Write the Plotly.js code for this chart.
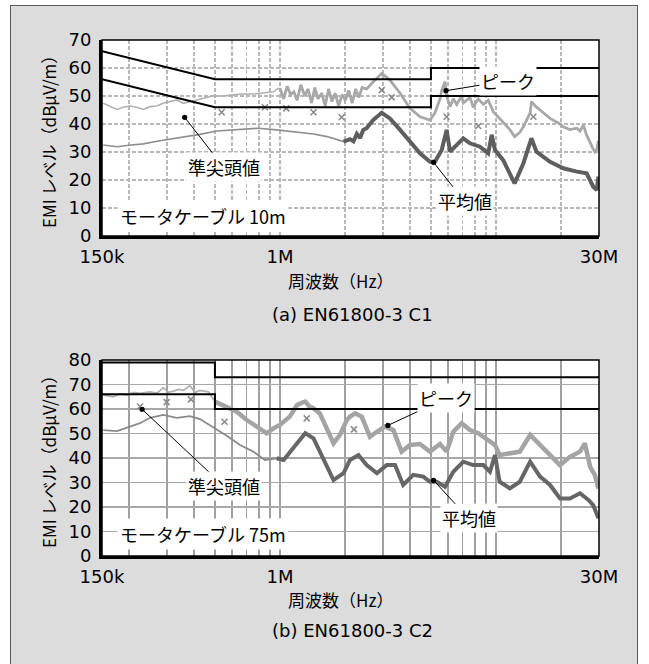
<!DOCTYPE html>
<html><head><meta charset="utf-8">
<script src="https://cdn.plot.ly/plotly-3.0.1.min.js"></script>
<style>
html,body{margin:0;padding:0;background:#fff;overflow:hidden;width:649px;height:664px;}
#frame{position:absolute;left:10px;top:5px;width:628px;height:700px;background:#dcdcdc;border:1px solid #5a5a5a;box-sizing:border-box;}
#chart{position:absolute;left:0;top:0;width:649px;height:664px;}
</style></head><body>
<div id="frame"></div><div id="chart"></div>
<script>
// ---------- data ----------
const xTickVals = [150e3,200e3,300e3,400e3,500e3,600e3,700e3,800e3,900e3,1e6,2e6,3e6,4e6,5e6,6e6,7e6,8e6,9e6,10e6,20e6,30e6];
const xTickText = ['150k','','','','','','','','','1M','','','','','','','','','','','30M'];

// (a) EN61800-3 C1, motor cable 10 m
const limitFreq1 = [150e3, 500e3, 5e6, 5e6, 30e6];
const limitQP1 = [66, 56, 56, 60, 60];
const limitAV1 = [56, 46, 46, 50, 50];
const peak1Freq = [152e3,163e3,176e3,188e3,202e3,217e3,233e3,250e3,269e3,288e3,310e3,333e3,357e3,383e3,412e3,442e3,490e3,547e3,608e3,674e3,753e3,837e3,932e3,979e3,
  1.00e6,1.04e6,1.08e6,1.12e6,1.16e6,1.20e6,1.25e6,1.30e6,1.35e6,1.40e6,1.45e6,1.50e6,1.56e6,1.62e6,1.68e6,1.74e6,1.80e6,1.87e6,1.94e6,2.01e6,2.08e6,2.16e6,2.24e6,2.32e6,2.40e6,
  2.52e6,2.70e6,2.96e6,3.23e6,3.60e6,4.00e6,4.45e6,4.95e6,5.22e6,5.51e6,5.61e6,5.81e6,5.91e6,6.13e6,6.35e6,6.58e6,6.94e6,7.06e6,7.58e6,7.85e6,8.28e6,8.74e6,9.21e6,9.72e6,10.4e6,10.8e6,11.6e6,12.2e6,12.9e6,13.4e6,14.4e6,14.6e6,15.4e6,16.0e6,17.8e6,19.8e6,20.5e6,22.0e6,23.7e6,24.5e6,25.4e6,26.3e6,27.3e6,28.2e6,28.7e6,29.3e6,29.8e6];
const peak1Val = [47.4,46.4,45.2,46.0,46.4,46.0,45.2,46.2,46.4,47.4,48.0,48.6,47.4,48.0,48.8,49.2,50.0,50.0,50.4,50.7,50.7,51.2,51.5,52.7,
  52.7,49.0,53.5,50.5,51.5,48.5,54.0,50.0,52.5,47.5,53.0,49.0,51.0,46.5,52.5,48.0,51.0,46.5,50.5,48.5,52.0,47.5,52.5,49.5,53.0,
  52.5,55.0,58.1,55.7,51.0,45.6,42.6,41.4,44.0,49.0,52.0,55.1,50.0,46.2,49.0,47.0,50.0,47.5,49.5,46.0,49.0,47.0,48.5,44.4,42.0,40.3,38.0,35.5,37.0,39.0,44.0,48.0,46.0,45.0,42.0,40.0,39.0,38.0,38.5,37.5,39.6,36.0,33.0,31.0,30.0,31.0,34.0];
const avg1Freq = [152e3,176e3,195e3,233e3,278e3,357e3,426e3,509e3,631e3,794e3,966e3,
  1.15e6,1.43e6,1.65e6,1.82e6,1.97e6,2.11e6,2.19e6,2.27e6,2.35e6,2.43e6,2.52e6,2.70e6,2.96e6,3.23e6,3.60e6,4.00e6,4.45e6,4.95e6,5.22e6,5.61e6,5.91e6,6.13e6,6.58e6,7.06e6,7.58e6,8.43e6,9.21e6,9.56e6,9.90e6,
  10.8e6,12.2e6,13.4e6,14.6e6,15.4e6,17.8e6,20.5e6,23.7e6,26.3e6,28.2e6,29.3e6,29.8e6];
const avg1Val = [32.5,31.9,32.3,32.9,34.0,35.2,36.3,37.5,38.1,38.5,37.9,
  37.3,36.4,35.5,34.5,33.7,34.6,33.8,36.5,35.0,37.9,38.5,41.4,44.0,42.0,37.9,33.7,29.5,26.5,26.5,30.7,37.9,30.1,32.5,34.9,33.1,31.9,29.5,36.1,30.7,
  27.1,18.8,26.0,34.9,30.1,26.5,24.2,23.0,22.4,17.6,16.4,21.2];
const qp1Freq = [537e3, 852e3, 1.07e6, 1.43e6, 1.93e6, 2.96e6, 3.29e6, 5.91e6, 8.28e6, 14.9e6];
const qp1Val = [44.2, 46.0, 45.6, 44.2, 42.4, 52.1, 49.5, 42.6, 39.3, 42.6];
const call1Labels = ['ピーク', '準尖頭値', '平均値'];
const call1Freq = [5.87e6, 362e3, 5.14e6];
const call1Val = [51.9, 42.4, 26.3];

// (b) EN61800-3 C2, motor cable 75 m
const limitFreq2 = [150e3, 500e3, 500e3, 30e6];
const limitQP2 = [79, 79, 73, 73];
const limitAV2 = [66, 66, 60, 60];
const peak2Freq = [152e3,169e3,182e3,195e3,210e3,225e3,250e3,270e3,288e3,305e3,321e3,340e3,357e3,383e3,405e3,426e3,466e3,500e3,567e3,631e3,
  702e3,780e3,868e3,932e3,1.00e6,1.11e6,1.20e6,1.26e6,1.31e6,1.37e6,1.43e6,1.53e6,1.65e6,1.77e6,1.90e6,2.04e6,2.11e6,2.23e6,2.39e6,2.61e6,
  2.81e6,3.06e6,3.35e6,3.66e6,4.00e6,4.45e6,4.95e6,5.51e6,5.91e6,6.35e6,6.94e6,7.58e6,8.28e6,9.21e6,9.90e6,10.4e6,11.6e6,12.9e6,14.4e6,16.0e6,
  17.8e6,19.8e6,22.0e6,24.5e6,25.8e6,27.3e6,28.7e6,29.8e6];
const peak2Val = [65.7,65.0,66.2,65.7,66.8,66.4,67.0,66.5,68.7,66.8,67.3,68.0,67.6,69.5,66.8,67.6,67.0,63.0,60.9,58.9,
  55.5,52.8,50.1,52.1,53.5,56.9,61.6,62.5,63.0,61.0,60.3,58.2,51.4,46.0,49.6,55.5,56.9,58.2,56.9,48.7,
  50.7,52.8,51.4,42.6,45.3,45.7,42.6,45.7,42.6,50.7,54.2,51.4,50.1,47.3,45.3,41.2,41.9,42.6,49.4,45.3,
  41.2,37.1,40.5,42.6,46.0,36.4,33.1,27.6];
const avg2Freq = [152e3,176e3,202e3,225e3,250e3,288e3,333e3,383e3,426e3,500e3,567e3,653e3,753e3,852e3,966e3,1.04e6,1.15e6,1.31e6,1.43e6,1.59e6,
  1.77e6,1.97e6,2.11e6,2.31e6,2.52e6,2.81e6,3.12e6,3.41e6,3.72e6,4.14e6,4.61e6,4.95e6,5.32e6,5.81e6,6.35e6,7.06e6,7.85e6,8.74e6,9.38e6,9.90e6,
  10.4e6,11.6e6,12.9e6,14.4e6,16.0e6,17.8e6,19.8e6,22.0e6,24.5e6,26.8e6,28.2e6,29.8e6];
const avg2Val = [51.4,51.0,52.8,54.2,56.4,57.6,56.4,57.1,55.9,52.1,49.1,45.3,42.6,39.2,39.9,39.2,44.0,50.1,48.0,39.9,
  31.0,33.8,39.2,41.2,37.1,33.8,37.1,37.1,29.0,33.1,32.4,30.3,30.3,28.3,34.4,38.5,37.1,37.1,34.4,41.2,
  30.3,27.6,30.3,38.5,32.4,29.0,23.5,23.5,25.6,22.9,20.8,15.4];
const qp2Freq = [225e3, 299e3, 387e3, 554e3, 1.33e6, 2.20e6];
const qp2Val = [61.0, 62.8, 63.9, 54.8, 56.2, 51.7];
const call2Labels = ['ピーク', '準尖頭値', '平均値'];
const call2Freq = [3.16e6, 230e3, 5.14e6];
const call2Val = [53.3, 59.9, 30.9];

const cableLabels = ['モータケーブル 10m', 'モータケーブル 75m'];
const panelTitles = ['(a) EN61800-3 C1', '(b) EN61800-3 C2'];
const xTitle = '周波数（Hz）';
const yTitle = 'EMI レベル（dBμV/m）';

// ---------- layout helpers ----------
const W = 649, H = 664;
const px = x => x / W;
const py = y => 1 - y / H;
const JP = 'Noto Sans CJK JP, sans-serif';
const LAT = 'DejaVu Sans, sans-serif';

function lineTr(x, y, xa, ya, color, width) {
  return {type:'scatter', mode:'lines', x:x, y:y, xaxis:xa, yaxis:ya,
    line:{color:color, width:width}, hoverinfo:'skip', showlegend:false};
}
function markTr(x, y, xa, ya) {
  return {type:'scatter', mode:'markers', x:x, y:y, xaxis:xa, yaxis:ya,
    marker:{symbol:'x-thin-open', size:6, color:'#8a8a8a', line:{color:'#8a8a8a', width:1.6}},
    hoverinfo:'skip', showlegend:false};
}
function fromIdx(freqs, f0) { return freqs.findIndex(f => f >= f0); }

const k1 = fromIdx(avg1Freq, 1.9e6);
const kp2 = fromIdx(peak2Freq, 480e3);
const ka2 = fromIdx(avg2Freq, 900e3);

const traces = [
  // panel (a)
  lineTr(peak1Freq, peak1Val, 'x', 'y', '#b0b0b0', 1.6),
  lineTr(peak1Freq.slice(24), peak1Val.slice(24), 'x', 'y', '#a8a8a8', 2.8),
  lineTr(avg1Freq, avg1Val, 'x', 'y', '#8e8e8e', 1.6),
  lineTr(avg1Freq.slice(k1), avg1Val.slice(k1), 'x', 'y', '#5e5e5e', 4),
  markTr(qp1Freq, qp1Val, 'x', 'y'),
  lineTr(limitFreq1, limitQP1, 'x', 'y', '#000', 2),
  lineTr(limitFreq1, limitAV1, 'x', 'y', '#000', 2),
  // panel (b)
  lineTr(peak2Freq, peak2Val, 'x2', 'y2', '#b0b0b0', 1.8),
  lineTr(peak2Freq.slice(kp2), peak2Val.slice(kp2), 'x2', 'y2', '#a4a4a4', 4.5),
  lineTr(avg2Freq, avg2Val, 'x2', 'y2', '#8a8a8a', 1.8),
  lineTr(avg2Freq.slice(ka2), avg2Val.slice(ka2), 'x2', 'y2', '#666666', 4),
  markTr(qp2Freq, qp2Val, 'x2', 'y2'),
  lineTr(limitFreq2, limitQP2, 'x2', 'y2', '#000', 2),
  lineTr(limitFreq2, limitAV2, 'x2', 'y2', '#000', 2)
];

const xDom = [px(102), px(599)];
function xAxis(anchor, dom, grid, dash) {
  return {type:'log', range:[Math.log10(150e3), Math.log10(30e6)], domain:dom, anchor:anchor,
    tickmode:'array', tickvals:xTickVals, ticktext:xTickText, ticks:'',
    showgrid:true, gridcolor:grid, gridwidth:dash ? 1.2 : 1.4, griddash:dash ? '4px,2px' : 'solid',
    showline:true, linecolor:'#000', linewidth:3, mirror:false, zeroline:false,
    tickfont:{family:LAT, size:18, color:'#000'}, ticklabelstandoff:2, automargin:false, fixedrange:true};
}
function yAxis(anchor, dom, top, grid, dash) {
  return {range:[0, top], dtick:10, tick0:0, domain:dom, anchor:anchor, ticks:'',
    showgrid:true, gridcolor:grid, gridwidth:1.2, griddash:dash ? '4px,2px' : 'solid',
    showline:true, linecolor:'#000', linewidth:3, mirror:false, zeroline:false,
    tickfont:{family:LAT, size:18, color:'#000'}, ticklabelstandoff:4, automargin:false, fixedrange:true};
}

function callouts(labels, freqs, vals, offs, xa, ya) {
  return labels.map((t, i) => ({
    xref:xa, yref:ya, x:Math.log10(freqs[i]), y:vals[i], text:t,
    showarrow:true, arrowhead:6, arrowsize:1.3, arrowwidth:1, arrowcolor:'#000',
    ax:offs[i][0], ay:offs[i][1], bgcolor:'#fff', borderpad:1,
    font:{family:JP, size:18, color:'#000'}
  }));
}
function paperText(t, x, y, opts) {
  return Object.assign({xref:'paper', yref:'paper', x:px(x), y:py(y), text:t, showarrow:false,
    xanchor:'center', yanchor:'middle', font:{family:JP, size:17, color:'#000'}}, opts || {});
}

const annotations = [].concat(
  callouts(call1Labels, call1Freq, call1Val, [[62,-10],[39,50],[31,39]], 'x', 'y'),
  callouts(call2Labels, call2Freq, call2Val, [[58,-27],[82,77],[35,38]], 'x2', 'y2'),
  [
    paperText(cableLabels[0], 203, 216.5, {bgcolor:'#fff', borderpad:2, font:{family:JP, size:18, color:'#000'}}),
    paperText(cableLabels[1], 203, 533.7, {bgcolor:'#fff', borderpad:2, font:{family:JP, size:18, color:'#000'}}),
    paperText(yTitle, 48, 138, {textangle:-90}),
    paperText(yTitle, 48, 458, {textangle:-90}),
    paperText(xTitle, 340, 281),
    paperText(xTitle, 340, 599),
    paperText(panelTitles[0], 352, 314, {font:{family:LAT, size:18, color:'#000'}}),
    paperText(panelTitles[1], 352, 630, {font:{family:LAT, size:18, color:'#000'}})
  ]
);

const shapes = [
  {type:'rect', xref:'x domain', yref:'y domain', x0:0, x1:1, y0:0, y1:1, line:{color:'#000', width:1.5}, layer:'above'},
  {type:'rect', xref:'x2 domain', yref:'y2 domain', x0:0, x1:1, y0:0, y1:1, line:{color:'#000', width:1.5}, layer:'above'}
];

const layout = {
  width:W, height:H, margin:{l:0, r:0, t:0, b:0},
  paper_bgcolor:'rgba(0,0,0,0)', plot_bgcolor:'#fff', showlegend:false,
  xaxis: xAxis('y', xDom, '#b8b8b8', true),
  yaxis: yAxis('x', [py(236), py(40)], 70, '#b8b8b8', true),
  xaxis2: xAxis('y2', xDom, '#a0a0a0', false),
  yaxis2: yAxis('x2', [py(556), py(360)], 80, '#a8a8a8', false),
  annotations: annotations, shapes: shapes
};

Plotly.newPlot('chart', traces, layout, {staticPlot:true, displayModeBar:false});
</script>
</body></html>
